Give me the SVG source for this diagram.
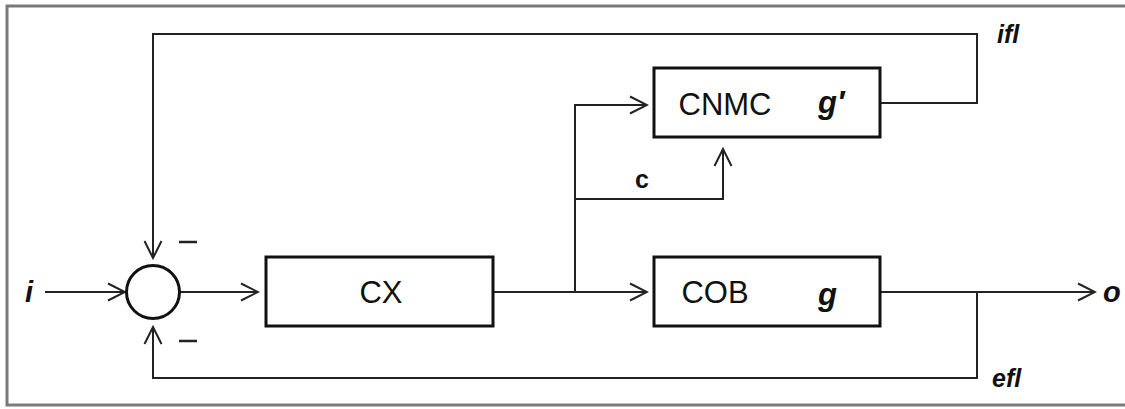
<svg xmlns="http://www.w3.org/2000/svg" width="1125" height="409" viewBox="0 0 1125 409">
<style>
  .box { fill: none; stroke: #111; stroke-width: 3; }
  .ln { fill: none; stroke: #222; stroke-width: 2; }
  .lbl { font-family: "Liberation Sans", Arial, sans-serif; fill: #111; }
  .up { font-size: 31px; text-anchor: middle; }
  .it { font-style: italic; font-weight: bold; }
</style>
<defs>
  <marker id="arr" viewBox="0 0 20 20" refX="18" refY="10" markerWidth="20" markerHeight="20" markerUnits="userSpaceOnUse" orient="auto">
    <path d="M1,1.5 L18,10 L1,18.5" fill="none" stroke="#222" stroke-width="2"/>
  </marker>
</defs>
<rect x="7" y="6" width="1140" height="399" fill="#fff" stroke="#7a7a7a" stroke-width="3"/>

<g id="connectors">
  <path class="ln" d="M45,292 L125,292" marker-end="url(#arr)"/>
  <path class="ln" d="M180,292 L258,292" marker-end="url(#arr)"/>
  <path class="ln" d="M493,292 L647,292" marker-end="url(#arr)"/>
  <path class="ln" d="M575,292 L575,105 L647,105" marker-end="url(#arr)"/>
  <path class="ln" d="M575,199 L723,199 L723,149" marker-end="url(#arr)"/>
  <path class="ln" d="M880,103 L977,103 L977,34 L153,34 L153,258" marker-end="url(#arr)"/>
  <path class="ln" d="M880,292 L1095,292" marker-end="url(#arr)"/>
  <path class="ln" d="M977,292 L977,378 L153,378 L153,327" marker-end="url(#arr)"/>
</g>

<g id="sum">
  <circle cx="153" cy="292" r="26.5" fill="none" stroke="#111" stroke-width="3"/>
  <path d="M179,242 L197,242 M179,341 L197,341" stroke="#222" stroke-width="2.5"/>
</g>

<g id="cx">
  <rect class="box" x="266" y="257" width="227" height="69"/>
  <text class="lbl up" x="381" y="303">CX</text>
</g>

<g id="cnmc">
  <rect class="box" x="654" y="68" width="226" height="69"/>
  <text class="lbl up" x="725" y="115">CNMC</text>
  <text class="lbl it" x="818" y="113" font-size="31">g′</text>
</g>

<g id="cob">
  <rect class="box" x="654" y="257" width="226" height="69"/>
  <text class="lbl up" x="715" y="303">COB</text>
  <text class="lbl it" x="818" y="305" font-size="31">g</text>
</g>

<g id="labels">
  <text class="lbl it" x="25" y="302" font-size="29">i</text>
  <text class="lbl it" x="1103" y="302" font-size="29">o</text>
  <text class="lbl" x="642" y="188" font-size="25" font-weight="bold" text-anchor="middle">c</text>
  <text class="lbl it" x="997" y="43" font-size="25">ifl</text>
  <text class="lbl it" x="992" y="387" font-size="25">efl</text>
</g>
</svg>
